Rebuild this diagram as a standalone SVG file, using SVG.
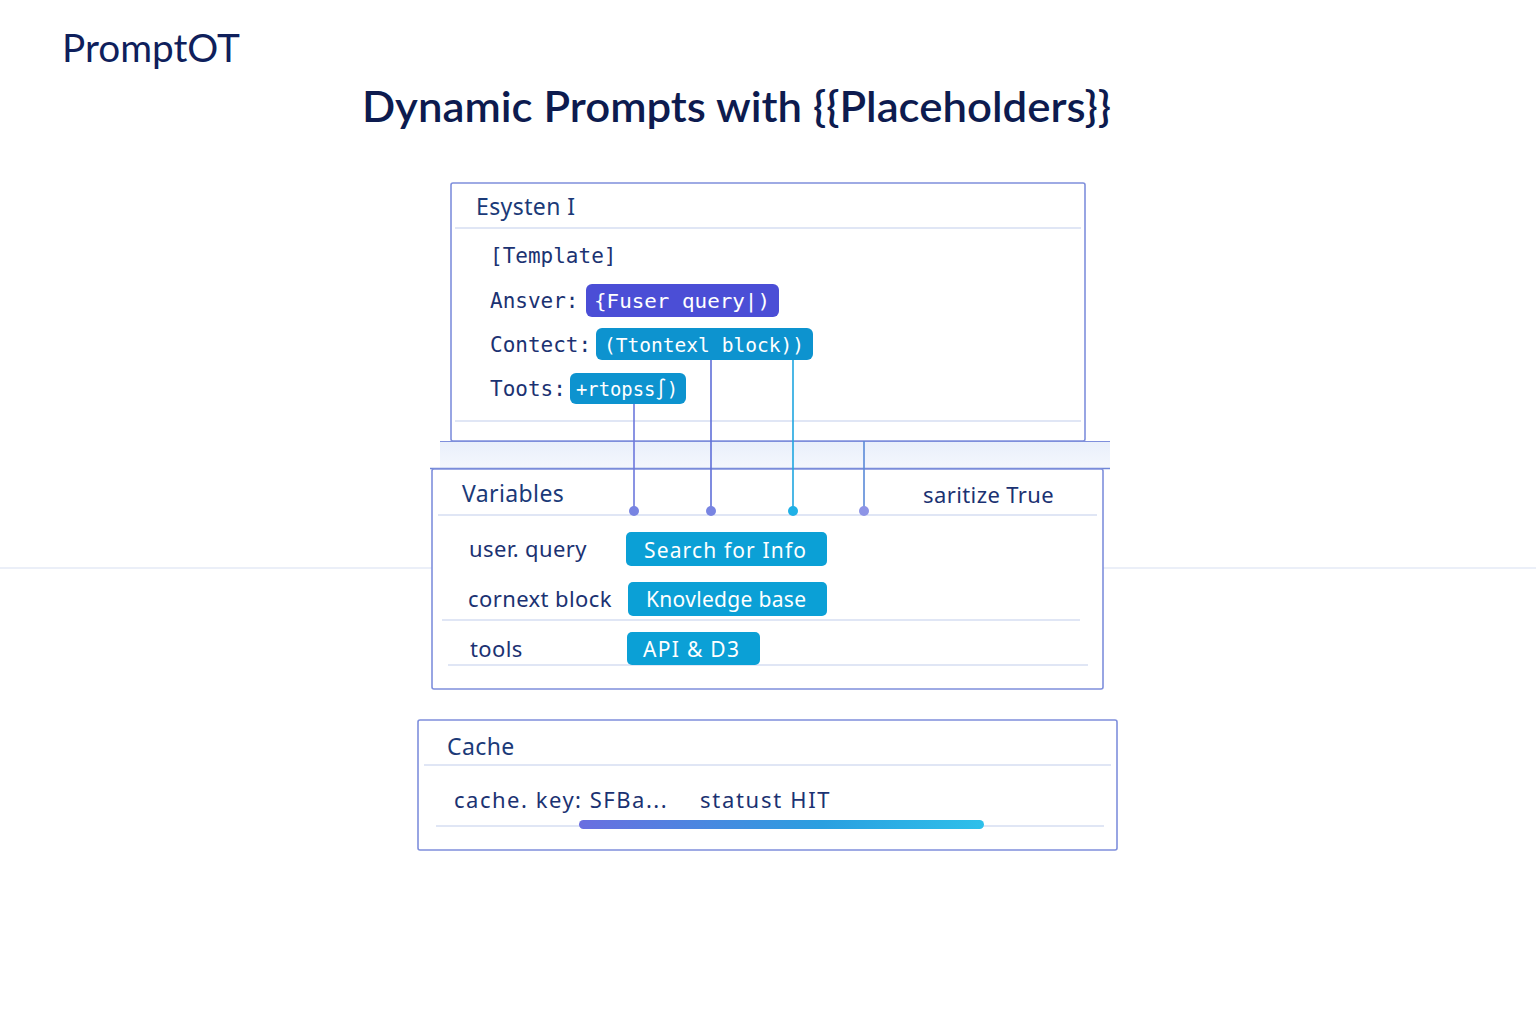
<svg xmlns="http://www.w3.org/2000/svg" width="1536" height="1024" viewBox="0 0 1536 1024">
<defs>
<style>
.box{fill:#ffffff;stroke:#7f8fdc;stroke-width:1.6}
.sep{stroke:#d6def2;stroke-width:1.5}
.lbl{font-family:"Noto Sans","DejaVu Sans",sans-serif;font-size:22px;fill:#1b3272;letter-spacing:0.4px}
.hdr{font-family:"Noto Sans","DejaVu Sans",sans-serif;font-size:23px;fill:#1b3a78;letter-spacing:0.4px}
.mono{font-family:"DejaVu Sans Mono","Liberation Mono",monospace;font-size:21px;fill:#1b3272}
.pilltxt{font-family:"DejaVu Sans Mono","Liberation Mono",monospace;font-size:20px;fill:#ffffff}
.pilltxt2{font-family:"Noto Sans","DejaVu Sans",sans-serif;font-size:21px;fill:#ffffff}
.wire{fill:none;stroke-width:1.6}
</style>
<linearGradient id="bar" x1="0" y1="0" x2="1" y2="0">
<stop offset="0" stop-color="#6a6ee0"/>
<stop offset="0.6" stop-color="#2a9fe0"/>
<stop offset="1" stop-color="#2ec0ea"/>
</linearGradient>
<linearGradient id="band" x1="0" y1="0" x2="0" y2="1">
<stop offset="0" stop-color="#e9effb"/>
<stop offset="1" stop-color="#f4f7fd"/>
</linearGradient>
</defs>
<rect width="1536" height="1024" fill="#ffffff"/>
<line x1="0" y1="568" x2="1536" y2="568" stroke="#d8e0f2" stroke-width="1.2"/>
<text x="62" y="62" font-family="Lato,'Open Sans',sans-serif" font-size="38" fill="#0f1f5c" textLength="178" lengthAdjust="spacingAndGlyphs">PromptOT</text>
<text x="362" y="122" font-family="Lato,'Open Sans',sans-serif" font-size="42" font-weight="600" fill="#0d1b4f" textLength="749" lengthAdjust="spacingAndGlyphs">Dynamic Prompts with {{Placeholders}}</text>

<rect x="440" y="441" width="670" height="28" fill="url(#band)"/>
<line x1="440" y1="441.5" x2="1110" y2="441.5" stroke="#7f8fdc" stroke-width="1.2"/>
<line x1="430" y1="468.5" x2="1110" y2="468.5" stroke="#6f86d6" stroke-width="1.4"/>

<g id="system">
<rect class="box" x="451" y="183" width="634" height="258" rx="2"/>
<line class="sep" x1="455" y1="228" x2="1081" y2="228"/>
<line class="sep" x1="455" y1="421" x2="1081" y2="421"/>
<text class="hdr" x="476" y="215">Esysten I</text>
<text class="mono" x="490" y="263">[Template]</text>
<text class="mono" x="490" y="308">Ansver:</text>
<text class="mono" x="490" y="352">Contect:</text>
<text class="mono" x="490" y="396">Toots:</text>
<rect x="586" y="284" width="193" height="33" rx="6" fill="#4b4ed6"/>
<text class="pilltxt" x="594" y="308" textLength="176" lengthAdjust="spacingAndGlyphs">{Fuser query|)</text>
<rect x="596" y="328" width="217" height="32" rx="6" fill="#0d93cf"/>
<text class="pilltxt" x="604" y="352" textLength="200" lengthAdjust="spacingAndGlyphs">(Ttontexl block))</text>
<rect x="570" y="373" width="116" height="31" rx="6" fill="#0d93cf"/>
<text class="pilltxt" x="576" y="396" textLength="102" lengthAdjust="spacingAndGlyphs">+rtopss∫)</text>
</g>

<g id="variables">
<rect class="box" x="432" y="469" width="671" height="220" rx="2"/>
<line class="sep" x1="438" y1="515" x2="1097" y2="515"/>
<line class="sep" x1="442" y1="620" x2="1080" y2="620"/>
<line class="sep" x1="448" y1="665" x2="1088" y2="665"/>
<text class="hdr" x="462" y="502">Variables</text>
<text class="lbl" x="923" y="503" fill="#1d5a9e">saritize True</text>
<text class="lbl" x="469" y="557">user. query</text>
<text class="lbl" x="468" y="607">cornext block</text>
<text class="lbl" x="470" y="657">tools</text>
<rect x="626" y="532" width="201" height="34" rx="5" fill="#0ba0d6"/>
<text class="pilltxt2" x="644" y="558" textLength="162">Search for Info</text>
<rect x="628" y="582" width="199" height="34" rx="5" fill="#0ba0d6"/>
<text class="pilltxt2" x="646" y="607" textLength="160">Knovledge base</text>
<rect x="627" y="632" width="133" height="33" rx="5" fill="#0ba0d6"/>
<text class="pilltxt2" x="643" y="657" textLength="96">API &amp; D3</text>
</g>

<g id="cache">
<rect class="box" x="418" y="720" width="699" height="130" rx="2"/>
<line class="sep" x1="424" y1="765" x2="1111" y2="765"/>
<line class="sep" x1="436" y1="826" x2="1104" y2="826"/>
<text class="hdr" x="447" y="755">Cache</text>
<text class="lbl" x="454" y="808" textLength="213">cache. key: SFBa...</text>
<text class="lbl" x="700" y="808" textLength="130">statust HIT</text>
<rect x="579" y="820" width="405" height="9" rx="4.5" fill="url(#bar)"/>
</g>

<g id="connectors">
<line class="wire" x1="634" y1="404" x2="634" y2="511" stroke="#6c78dc"/>
<line class="wire" x1="711" y1="360" x2="711" y2="511" stroke="#5f6fd8"/>
<line class="wire" x1="793" y1="360" x2="793" y2="511" stroke="#1fa6e0"/>
<line class="wire" x1="864" y1="441" x2="864" y2="511" stroke="#5a8ad8"/>
<circle cx="634" cy="511" r="5" fill="#7884e2"/>
<circle cx="711" cy="511" r="5" fill="#7884e2"/>
<circle cx="793" cy="511" r="5" fill="#1fb0e6"/>
<circle cx="864" cy="511" r="5" fill="#8d94e6"/>
</g>
</svg>
